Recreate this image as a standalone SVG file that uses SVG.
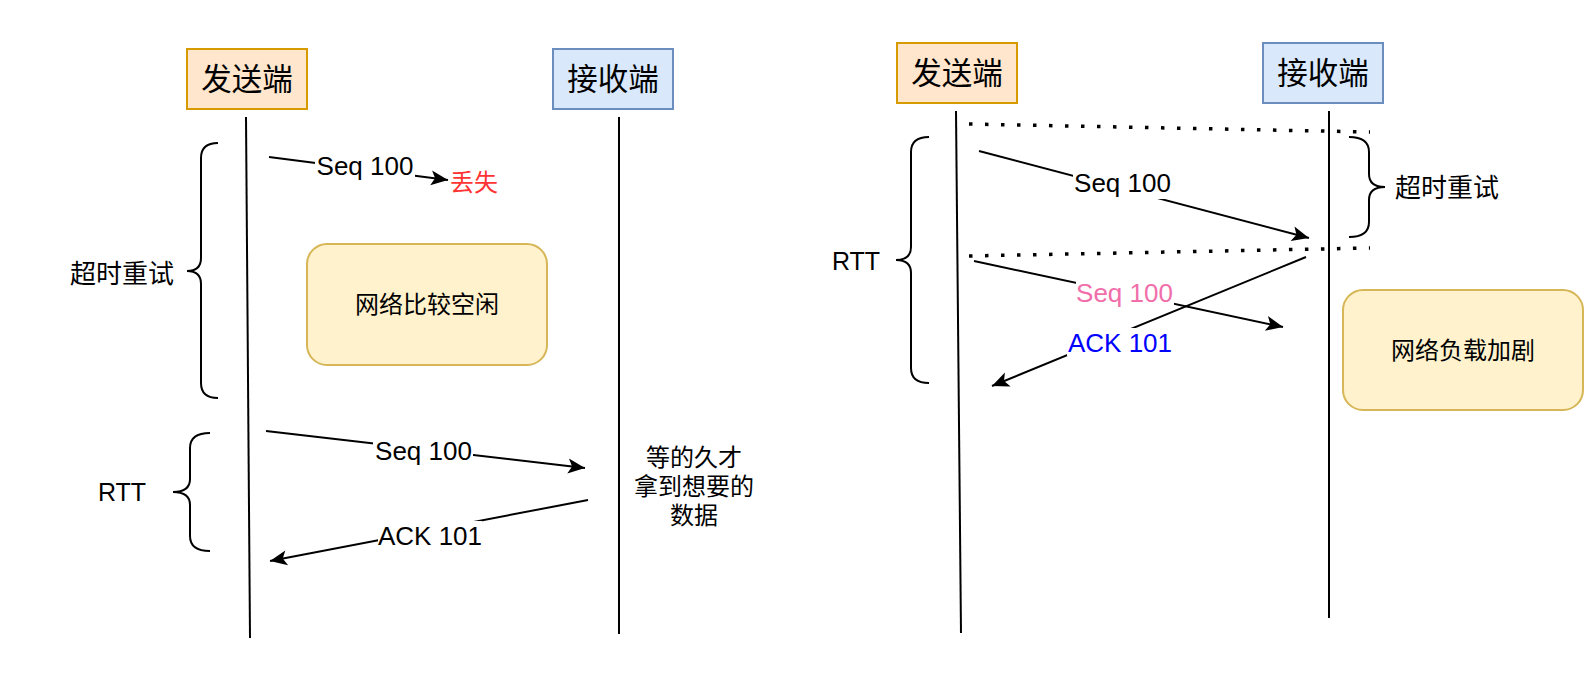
<svg xmlns="http://www.w3.org/2000/svg" width="1596" height="678" viewBox="0 0 1596 678">
<style>
text{font-family:"Liberation Sans","Noto Sans CJK SC",sans-serif;text-anchor:middle;fill:#000}
.cjk{dominant-baseline:central}
.ln{stroke:#000;stroke-width:2;fill:none}
.dot{stroke:#000;stroke-width:3.5;fill:none;stroke-dasharray:3.5 12.5}
.lbg{fill:#fff;stroke:none}
.snd{fill:#ffe6cc;stroke:#d79b00;stroke-width:2}
.rcv{fill:#dae8fc;stroke:#6c8ebf;stroke-width:2}
.net{fill:#fff2cc;stroke:#d6b656;stroke-width:2}
</style>
<defs>
<marker id="arr" markerUnits="userSpaceOnUse" markerWidth="20" markerHeight="16" refX="18" refY="8" orient="auto" viewBox="0 0 20 16" overflow="visible">
<path d="M18,8 L1,0.5 L5,8 L1,15.5 Z" fill="#000"/>
</marker>
</defs>
<rect width="1596" height="678" fill="#fff"/>

<!-- Left diagram nodes -->
<g id="left-sender"><rect class="snd" x="187" y="49" width="120" height="60"/><text class="cjk" x="247" y="79" font-size="30.5">发送端</text></g>
<g id="left-receiver"><rect class="rcv" x="553" y="49" width="120" height="60"/><text class="cjk" x="613" y="79" font-size="30.5">接收端</text></g>
<g id="left-network"><rect class="net" x="307" y="244" width="240" height="121" rx="20"/><text class="cjk" x="427" y="304" font-size="24">网络比较空闲</text></g>
<g id="left-lost"><text class="cjk" x="474" y="182" font-size="24" style="fill:#ff3333">丢失</text></g>
<g id="left-timeout-label"><text class="cjk" x="122" y="274" font-size="26">超时重试</text></g>
<g id="left-rtt-label"><text x="122" y="501" font-size="25">RTT</text></g>
<g id="left-wait-note"><text class="cjk" font-size="24"><tspan x="694" y="457">等的久才</tspan><tspan x="694" y="486">拿到想要的</tspan><tspan x="694" y="515">数据</tspan></text></g>

<!-- Right diagram nodes -->
<g id="right-sender"><rect class="snd" x="897" y="43" width="120" height="60"/><text class="cjk" x="957" y="73" font-size="30.5">发送端</text></g>
<g id="right-receiver"><rect class="rcv" x="1263" y="43" width="120" height="60"/><text class="cjk" x="1323" y="73" font-size="30.5">接收端</text></g>
<g id="right-network"><rect class="net" x="1343" y="290" width="240" height="120" rx="20"/><text class="cjk" x="1463" y="350" font-size="24">网络负载加剧</text></g>
<g id="right-timeout-label"><text class="cjk" x="1447" y="188" font-size="26">超时重试</text></g>
<g id="right-rtt-label"><text x="856" y="270" font-size="25">RTT</text></g>

<g id="connectors">
<!-- lifelines -->
<line class="ln" x1="246" y1="117" x2="250" y2="638"/>
<line class="ln" x1="619" y1="117" x2="619" y2="634"/>
<line class="ln" x1="956" y1="111" x2="961" y2="633"/>
<line class="ln" x1="1329" y1="111" x2="1329" y2="618"/>
<!-- braces -->
<path class="ln" d="M218,143 Q201,143 201,158 L201,258 Q201,271 187,271 Q201,271 201,284 L201,383 Q201,398 218,398"/>
<path class="ln" d="M210,433 Q190,433 190,448 L190,479 Q190,492 173,492 Q190,492 190,505 L190,536 Q190,551 210,551"/>
<path class="ln" d="M929,137 Q911,137 911,152 L911,247 Q911,260 896,260 Q911,260 911,273 L911,368 Q911,383 929,383"/>
<path class="ln" d="M1349,137 Q1369,137 1369,152 L1369,174 Q1369,187 1385,187 Q1369,187 1369,200 L1369,222 Q1369,237 1349,237"/>
<!-- dotted lines -->
<line class="dot" x1="969" y1="124" x2="1370" y2="132"/>
<line class="dot" x1="969" y1="256" x2="1370" y2="248"/>
<!-- arrows -->
<line class="ln" x1="269" y1="157" x2="448" y2="180" marker-end="url(#arr)"/>
<line class="ln" x1="266" y1="431" x2="585" y2="468" marker-end="url(#arr)"/>
<line class="ln" x1="588" y1="500" x2="270" y2="561" marker-end="url(#arr)"/>
<line class="ln" x1="979" y1="151" x2="1309" y2="238" marker-end="url(#arr)"/>
<line class="ln" x1="974" y1="261" x2="1283" y2="327" marker-end="url(#arr)"/>
<line class="ln" x1="1306" y1="257" x2="992" y2="386" marker-end="url(#arr)"/>
<!-- arrow labels -->
<rect class="lbg" x="315" y="155" width="100" height="27"/>
<text x="365" y="175" font-size="26">Seq 100</text>
<rect class="lbg" x="373" y="440" width="100" height="27"/>
<text x="423.5" y="460" font-size="26">Seq 100</text>
<rect class="lbg" x="378" y="521" width="104" height="30"/>
<text x="430" y="545" font-size="26">ACK 101</text>
<rect class="lbg" x="1073" y="171" width="99" height="28"/>
<text x="1122.5" y="192" font-size="26">Seq 100</text>
<rect class="lbg" x="1076" y="281" width="98" height="28"/>
<text x="1124.5" y="301.5" font-size="26" style="fill:#f06eaa">Seq 100</text>
<rect class="lbg" x="1067" y="328" width="106" height="28"/>
<text x="1120" y="352" font-size="26" style="fill:#0000ff">ACK 101</text>
</g>
</svg>
